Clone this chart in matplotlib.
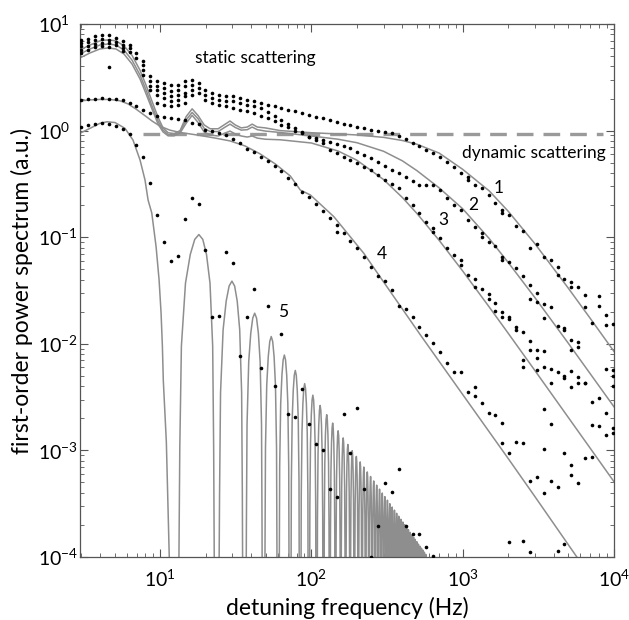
import numpy as np
import matplotlib
matplotlib.use("Agg")
import matplotlib.pyplot as plt
from matplotlib.ticker import LogLocator, LogFormatterMathtext, NullFormatter

plt.rcParams['font.family'] = ['Lato', 'DejaVu Sans']
plt.rcParams['mathtext.default'] = 'regular'

# measurement frequencies (Hz), one per dot column
grid_hz = [3.01, 3.35, 3.72, 4.13, 4.58, 5.09, 5.66, 6.28, 6.98, 7.75,
           8.61, 9.57, 10.63, 11.80, 13.11, 14.57, 16.18, 17.97, 19.96, 22.17,
           24.63, 27.35, 30.39, 33.76, 37.49, 41.66, 46.27, 51.39, 57.07, 63.41,
           70.43, 78.22, 86.90, 96.51, 107.2, 119.1, 132.3, 146.9, 163.2, 181.3,
           201.4, 223.7, 248.5, 276.0, 306.6, 340.6, 378.3, 420.2, 466.7, 518.5,
           575.9, 639.7, 710.6, 789.3, 876.7, 973.9, 1082, 1201, 1335, 1483,
           1647, 1829, 2032, 2257, 2507, 2785, 3094, 3436, 3816, 4240,
           4710, 5231, 5811, 6455, 7170, 7964, 8845, 9825]

# series 1-3 points: static band (columns 0-25) then tails (columns 26-77)
s1 = [7.12, 7.28, 7.66, 7.83, 7.83, 7.39, 6.88, 6.40, 5.35, 4.47, 3.23, 2.90, 2.80,
      2.70, 2.70, 2.90, 3.00, 2.80, 2.42, 2.25, 2.17, 2.10, 2.10, 2.02, 1.95, 1.88,
      1.82, 1.75, 1.69, 1.62, 1.57, 1.52, 1.46, 1.41, 1.35, 1.30, 1.25, 1.20, 1.16,
      1.12, 1.09, 1.05, 1.02, 1.00, 0.976, 0.94, 0.89, 0.83, 0.77, 0.72, 0.66, 0.612,
      0.569, 0.511, 0.4585, 0.398, 0.37, 0.309, 0.2875, 0.2488, 0.208, 0.18, 0.1615,
      0.1274, 0.1151, 0.0787, 0.0864, 0.0657, 0.0611, 0.0529, 0.0403, 0.0382, 0.0338,
      0.0287, 0.0156, 0.028, 0.0187, 0.0152]
s2 = [6.63, 6.78, 7.12, 7.28, 7.12, 6.78, 6.40, 5.96, 4.80, 4.15, 2.90, 2.60, 2.51,
      2.34, 2.42, 2.60, 2.70, 2.51, 2.17, 2.02, 1.95, 1.88, 1.88, 1.82, 1.75, 1.69,
      1.62, 1.50, 1.38, 1.26, 1.15, 1.05, 0.96, 0.878, 0.85, 0.82, 0.787, 0.75, 0.715,
      0.682, 0.635, 0.59, 0.55, 0.511, 0.47, 0.426, 0.40, 0.37, 0.34, 0.309, 0.31, 0.309,
      0.277, 0.2317, 0.2005, 0.179, 0.145, 0.1255, 0.1089, 0.0911, 0.0826, 0.0657, 0.0589,
      0.0511, 0.0428, 0.0356, 0.0302, 0.0235, 0.0223, 0.0147, 0.0140, 0.0109, 0.0105,
      0.00425, 0.00286, 0.00308, 0.00222, 0.00162]
s3 = [6.18, 6.18, 6.49, 6.63, 6.63, 6.31, 5.96, 5.46, np.nan, 3.73, 2.60, 2.42, 2.25,
      2.10, 2.17, 2.25, 2.42, 2.25, 1.95, 1.82, 1.75, 1.69, 1.63, 1.57, 1.52, 1.46,
      1.38, 1.30, 1.22, 1.14, 1.07, 1.00, 0.94, 0.88, 0.82, 0.76, 0.658, 0.61, 0.57,
      0.53, 0.494, 0.46, 0.426, 0.385, 0.344, 0.315, 0.288, 0.235, 0.20, 0.17, 0.14,
      0.1212, 0.0981, 0.0787, 0.0682, 0.0611, 0.0443, 0.0403, 0.0324, 0.0293, 0.0243,
      0.0197, 0.018, 0.0143, 0.013, 0.0107, 0.00874, 0.00857, 0.00585, 0.00546, 0.00497,
      0.00555, 0.00485, 0.00425, 0.00174, 0.00168, 0.0014, 0.00146]
# repeated points of series 1-3 (column index, value)
rep_k = [0, 0, 1, 2, 3, 4, 4, 6, 9, 10, 11, 11, 12, 12, 13, 13, 14, 14, 15, 15, 16,
         56, 61, 69, 71, 73, 75, 76,
         58, 61, 65, 66, 67, 70, 71, 72,
         51, 55, 57, 59, 60, 61, 62, 63, 64, 64, 65, 66, 66, 67, 67, 68, 68, 70, 71, 72,
         76, 77, 77, 77, 73, 74]
rep_v = [5.74, 5.35, 5.74, 6.05, 6.18, 6.05, 3.92, 5.54, 3.34, 2.42, 2.17, 1.82, 2.02,
         1.75, 1.88, 1.69, 1.95, 1.75, 2.10, 1.82, 2.17,
         0.344, 0.1676, 0.0442, 0.0343, 0.0223, 0.0226, 0.015,
         0.1013, 0.0611, 0.0261, 0.0249, 0.0173, 0.0135, 0.00874, 0.00927,
         0.1125, 0.0546, 0.0343, 0.0261, 0.0201, 0.018, 0.017, 0.0135, 0.00705, 0.006,
         0.00874, 0.0073, 0.00565, 0.006, 0.00243, 0.0043, 0.00178, 0.00475, 0.00397,
         0.00425, 0.00578, 0.00565, 0.00497, 0.00402, 0.00084, 0.00087]

# series 4 and 5 points (column index k -> value)
s4 = [1.937, 1.966, 1.992, 2.009, 2.000, 1.979, 1.937, 1.815, 1.684, 1.561,
      1.463, 1.371, 1.341, 1.313, 1.271, 1.257, 1.191, 1.141, 1.013, 0.991,
      0.943, 0.909, 0.829, 0.760, 0.672, 0.634, 0.569, 0.522, 0.469, 0.4205,
      0.357, 0.3155, 0.2672, 0.2398, 0.2048, 0.1761, 0.1504, 0.1302, 0.1088, 0.0927,
      0.0787, 0.0648, 0.0522, 0.0435, 0.0391, 0.03197, 0.02262, 0.02107, 0.01796, 0.01447,
      0.01209, 0.0101, 0.00843, 0.00656, 0.00547, 0.00547, 0.003555, 0.00397, 0.002766, 0.002228,
      0.002148, 0.001819, 0.000939, 0.001207, 0.001166, 0.00052, 0.000567, 0.000396, 0.00052, 0.000114,
      0.000132]
s5 = [1.081, 1.128, 1.141, 1.166, 1.141, 1.104, 1.035, 0.939, 0.733, 0.571,
      0.319, 0.1615, 0.0908, 0.0598, 0.0666, 0.148, 0.2317, 0.2035, 0.0758, 0.01796,
      0.01823, 0.0731, 0.0569, 0.00769, 0.01796, 0.03246, 0.00599, 0.02277, 0.00402, 0.01228,
      0.002196, 0.002057, 0.003742, 0.001769, 0.001148, 0.001015, 0.000437, 0.000368, 0.002187, 0.000939,
      0.002488, 0.000436, 0.000099, 0.0001937, 0.000491, 0.000403, 0.000669, 0.000194, 0.000166, 0.000164,
      0.000125, 0.000102]
rep45_k = [37, 57, 61, 69, 67, 70, 71, 71, 72, 62, 64, 65]
rep45_v = [0.1126, 0.003238, 0.001181, 0.000451, 0.00104, 0.00094, 0.000723, 0.000587,
           0.000499, 0.000137, 0.000141, 0.000112]

# fitted curves 1-3 (static + dynamic scattering)
c_low_hz = [2.95, 3.44, 4.00, 4.53, 5.11, 5.77, 6.52, 7.37, 8.08, 8.85, 9.70, 10.46,
            11.30, 12.38, 13.56, 14.86, 16.29, 17.85, 19.56, 21.43, 24.2, 26.95, 29.0,
            31.4, 34.4, 37.7, 40.6, 43.9, 49.6]
c1_low = [5.70, 6.35, 6.95, 7.10, 6.95, 6.24, 5.09, 3.68, 2.66, 1.88, 1.33, 1.06, 0.955,
          0.935, 1.00, 1.35, 1.60, 1.38, 1.13, 1.04, 1.04, 1.15, 1.23, 1.13, 1.06, 1.08,
          1.15, 1.08, 1.06]
c2_low = [5.23, 5.83, 6.35, 6.49, 6.35, 5.70, 4.59, 3.32, 2.40, 1.70, 1.23, 1.01, 0.919,
          0.909, 0.970, 1.26, 1.48, 1.29, 1.05, 0.98, 0.98, 1.08, 1.15, 1.07, 1.01, 1.02,
          1.08, 1.02, 0.99]
c3_low = [4.80, 5.35, 5.83, 5.96, 5.83, 5.23, 4.22, 3.05, 2.21, 1.59, 1.15, 0.972, 0.893,
          0.893, 0.950, 1.17, 1.39, 1.19, 0.97, 0.909, 0.890, 0.95, 0.99, 0.93, 0.89, 0.87,
          0.89, 0.85, 0.83]
c_high_hz = [62.3, 100, 150, 200, 300, 400, 500, 700, 1000, 1500, 2000, 3000, 5000, 7000, 10000]
c1_high = [1.00, 0.955, 0.93, 0.91, 0.864, 0.807, 0.744, 0.615, 0.4335, 0.2716, 0.1753,
           0.0871, 0.0332, 0.0172, 0.0085]
c2_high = [0.96, 0.89, 0.83, 0.77, 0.64, 0.52, 0.42, 0.29, 0.185, 0.097, 0.058,
           0.0272, 0.0101, 0.0052, 0.00257]
c3_high = [0.82, 0.765, 0.644, 0.5275, 0.3476, 0.2353, 0.1663, 0.0933, 0.04826, 0.0221,
           0.01257, 0.00563, 0.002034, 0.00104, 0.00051]

# curve 4
c4_hz = [2.95, 3.44, 4.00, 4.67, 5.45, 6.14, 6.94, 7.84, 8.85, 10.0, 11.6, 13.56, 15.8,
         18.4, 23.2, 29.0, 36.5, 45.9, 57.7, 72.6, 84.5, 98.5, 140.7, 222, 300, 526, 1000,
         2000, 3000, 5690, 7000]
c4_val = [1.896, 1.94, 1.96, 1.96, 1.90, 1.78, 1.59, 1.40, 1.23, 1.10, 1.01, 0.96, 0.93,
          0.90, 0.85, 0.80, 0.717, 0.604, 0.487, 0.375, 0.277, 0.249, 0.156, 0.0707, 0.0381,
          0.0121, 0.00335, 0.00084, 0.00037, 0.0001, 0.000066]

# curve 5: main lobe, then side lobes (zeros and peak heights)
c5_main_hz = [2.95, 3.44, 4.00, 4.46, 5.04, 5.86, 6.62, 7.37, 7.95, 8.33, 8.81, 9.41,
              9.85, 10.15, 10.36, 10.5, 11.0, 11.5, 12.5]
c5_main_val = [0.943, 1.05, 1.17, 1.21, 1.19, 1.05, 0.816, 0.53, 0.344, 0.223, 0.169,
               0.0815, 0.0397, 0.0195, 0.0094, 0.00457, 0.0012, 0.0001, 1e-9]
lobe_zero_hz = [12.5, 23.6, 36.1, 48.3, 60.3, 72.3, 84.3, 96.3, 108.3, 120.3, 132.3,
                144.3, 156.3, 168.3, 180.3, 192.3, 204.3, 216.3, 228.3, 240.3, 252.3,
                264.3, 276.3, 288.3, 300.3, 312.3, 324.3, 336.3, 348.3, 360.3, 372.3,
                384.3, 396.3, 408.3, 420.3, 432.3, 444.3, 456.3, 468.3, 480.3, 492.3,
                504.3, 516.3, 528.3, 540.3, 552.3, 564.3, 576.3]
lobe_peak_val = [0.1059, 0.03872, 0.01937, 0.0117, 0.007849, 0.005627, 0.004231, 0.003297,
                 0.002641, 0.002163, 0.001804, 0.001527, 0.00131, 0.001136, 0.000994,
                 0.000877, 0.00078, 0.000698, 0.000628, 0.000569, 0.000517, 0.000472,
                 0.000433, 0.000398, 0.000368, 0.000341, 0.000316, 0.000294, 0.000275,
                 0.000257, 0.000241, 0.000226, 0.000213, 0.000201, 0.00019, 0.00018,
                 0.00017, 0.000161, 0.000153, 0.000146, 0.000139, 0.000132, 0.000126,
                 0.000121, 0.000116, 0.000111, 0.000106]
# lobe profile read from the first side lobe (position between zeros, relative height)
lobe_u = [0.0, 0.09, 0.12, 0.2, 0.3, 0.4, 0.5, 0.6, 0.7, 0.8, 0.88, 0.91, 1.0]
lobe_rel = [1e-7, 0.01, 0.09, 0.35, 0.65, 0.9, 1.0, 0.9, 0.65, 0.35, 0.09, 0.01, 1e-7]

dyn_level = 0.935
dyn_span_hz = [7.7, 8450]

gray = '#8e8e8e'

fig = plt.figure(figsize=(6.29, 6.2), dpi=100)
ax = fig.add_axes([0.127, 0.1016, 0.849, 0.8597])
ax.set_xscale('log')
ax.set_yscale('log')

ax.plot(dyn_span_hz, [dyn_level, dyn_level], color='#9a9a9a', lw=2.4, dashes=(5.0, 3.0), zorder=1)

for low, high in [(c1_low, c1_high), (c2_low, c2_high), (c3_low, c3_high)]:
    ax.plot(c_low_hz + c_high_hz, low + high, color=gray, lw=1.1, zorder=2)
ax.plot(c4_hz, c4_val, color=gray, lw=1.1, zorder=2)

# curve 5 built lobe by lobe
c5x = list(c5_main_hz)
c5y = list(c5_main_val)
for i, pk in enumerate(lobe_peak_val):
    z0, z1 = lobe_zero_hz[i], lobe_zero_hz[i + 1]
    for u, r in zip(lobe_u[1:], lobe_rel[1:]):
        c5x.append(z0 + u * (z1 - z0))
        c5y.append(pk * r)
ax.plot(c5x, c5y, color=gray, lw=1.1, zorder=2)

grid = np.array(grid_hz)
dot = dict(ls='none', marker='o', ms=2.6, color='black', mec='none', zorder=3)
for s in [s1, s2, s3, s4, s5]:
    ax.plot(grid[:len(s)], s, **dot)
ax.plot(grid[rep_k], rep_v, **dot)
ax.plot(grid[rep45_k], rep45_v, **dot)

ax.set_xlim(2.95, 1e4)
ax.set_ylim(1e-4, 10)

ax.xaxis.set_major_locator(LogLocator(base=10, numticks=10))
ax.yaxis.set_major_locator(LogLocator(base=10, numticks=10))
ax.xaxis.set_minor_locator(LogLocator(base=10, subs=np.arange(2, 10), numticks=20))
ax.yaxis.set_minor_locator(LogLocator(base=10, subs=np.arange(2, 10), numticks=20))
ax.xaxis.set_major_formatter(LogFormatterMathtext())
ax.yaxis.set_major_formatter(LogFormatterMathtext())
ax.xaxis.set_minor_formatter(NullFormatter())
ax.yaxis.set_minor_formatter(NullFormatter())
ax.tick_params(which='both', direction='in', top=True, right=True, color='#555555')
ax.tick_params(which='major', length=6, width=0.8, labelsize=14)
ax.tick_params(which='minor', length=3, width=0.6)
ax.tick_params(axis='x', which='major', pad=8)
# MATLAB-style left aligned y tick labels
ax.tick_params(axis='y', which='major', pad=30)
for lbl in ax.get_yticklabels():
    lbl.set_horizontalalignment('left')
for sp in ax.spines.values():
    sp.set_color('#555555')
    sp.set_linewidth(0.9)

ax.set_xlabel('detuning frequency (Hz)', fontsize=16.5)
ax.set_ylabel('first-order power spectrum (a.u.)', fontsize=16.5)
ax.xaxis.set_label_coords(0.5, -0.074)
ax.yaxis.set_label_coords(-0.088, 0.5)

tk = dict(fontsize=12.5, ha='center', va='center')
ax.text(42.6, 4.8, 'static scattering', **tk)
ax.text(2950, 0.612, 'dynamic scattering', **tk)
ax.text(1731, 0.289, '1', **tk)
ax.text(1177, 0.2005, '2', **tk)
ax.text(745, 0.145, '3', **tk)
ax.text(291, 0.0696, '4', **tk)
ax.text(64.9, 0.020, '5', **tk)

fig.savefig('out.png', dpi=100)
